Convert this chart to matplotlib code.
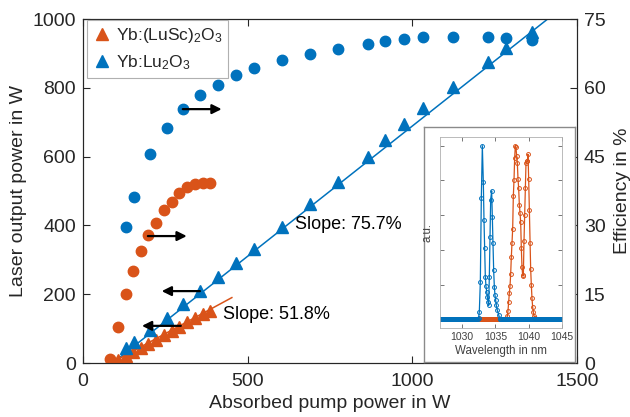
import numpy as np
import matplotlib
matplotlib.use('Agg')
import matplotlib.pyplot as plt
from matplotlib.lines import Line2D

plt.rcParams['font.family'] = ['Liberation Sans', 'DejaVu Sans']
plt.rcParams['mathtext.fontset'] = 'custom'
plt.rcParams['mathtext.rm'] = 'Liberation Sans'
plt.rcParams['mathtext.it'] = 'Liberation Sans:italic'

BLUE = '#0072BD'
ORANGE = '#D95319'
AXC = '#262626'

# ---------------- data ----------------
# Yb:Lu2O3
lu_pump = [130, 155, 203, 255, 303, 355, 409, 464, 518, 603, 688, 773,
           864, 918, 976, 1033, 1124, 1230, 1285, 1364]
lu_power = [44, 61, 96, 131, 172, 209, 250, 291, 331, 395, 462, 526,
            599, 648, 695, 741, 802, 875, 916, 962]
lu_eff = [29.6, 36.2, 45.6, 51.2, 55.4, 58.4, 60.6, 62.8, 64.3, 66.1, 67.4,
          68.5, 69.5, 70.2, 70.6, 71.1, 71.1, 71.1, 70.9, 70.4]
# Yb:(LuSc)2O3
lusc_pump = [82, 106, 130, 152, 176, 197, 221, 245, 270, 291, 315, 339, 364, 385]
lusc_power = [1, 9, 20, 31, 43, 55, 67, 80, 93, 106, 119, 131, 142, 152]
lusc_eff = [0.9, 7.8, 15.0, 20.1, 24.4, 27.9, 30.5, 33.4, 35.1, 37.1, 38.4,
            39.0, 39.2, 39.2]

# linear fits (slope, threshold in W, end of drawn line in W)
lu_slope, lu_thr, lu_end = 0.757, 90, 1500
lusc_slope, lusc_thr, lusc_end = 0.518, 85, 452

# arrows: (start_x, end_x, y in W on left axis)
arrows = [(303, 421, 738), (197, 315, 369), (355, 239, 209), (297, 179, 108)]

# inset spectra
blue_peak_wl = [1032.4, 1032.5, 1032.6, 1032.75, 1032.9, 1033.05, 1033.2, 1033.3,
                1033.4, 1033.5, 1033.6, 1033.7, 1033.8, 1033.9, 1034.0, 1034.1,
                1034.2, 1034.3, 1034.45, 1034.55, 1034.65, 1034.75, 1034.85,
                1034.95, 1035.05, 1035.15, 1035.3, 1035.5, 1035.7]
blue_peak_val = [0.0, 0.01, 0.045, 0.215, 0.70, 1.0, 0.79, 0.57, 0.41, 0.245,
                 0.19, 0.16, 0.13, 0.10, 0.08, 0.245, 0.476, 0.69, 0.74, 0.59,
                 0.437, 0.283, 0.187, 0.139, 0.11, 0.08, 0.052, 0.027, 0.0]
orange_peak_wl = [1036.7, 1036.8, 1036.9, 1037.0, 1037.1, 1037.2, 1037.3, 1037.4,
                  1037.5, 1037.6, 1037.7, 1037.8, 1037.9, 1038.0, 1038.1, 1038.2,
                  1038.3, 1038.4, 1038.5, 1038.6, 1038.7, 1038.8, 1038.9, 1039.0,
                  1039.1, 1039.2, 1039.3, 1039.4, 1039.5, 1039.6, 1039.7, 1039.8,
                  1039.9, 1040.0, 1040.1, 1040.2, 1040.3, 1040.4, 1040.5, 1040.6,
                  1040.7, 1040.8, 1040.9, 1041.0]
orange_peak_val = [0.0, 0.02, 0.05, 0.10, 0.15, 0.19, 0.26, 0.36, 0.44, 0.52,
                   0.71, 0.80, 0.93, 1.0, 0.99, 0.94, 0.90, 0.81, 0.755, 0.66,
                   0.615, 0.56, 0.41, 0.30, 0.255, 0.25, 0.45, 0.60, 0.755, 0.90,
                   0.91, 0.91, 0.95, 0.81, 0.63, 0.44, 0.29, 0.197, 0.12, 0.07,
                   0.04, 0.02, 0.01, 0.0]
baseline_range = (1026.7, 1045.0)
baseline_step = 0.15


def spectrum(peak_wl, peak_val):
    base = np.arange(baseline_range[0], baseline_range[1] + 1e-9, baseline_step)
    base = base[(base < peak_wl[0]) | (base > peak_wl[-1])]
    wl = np.concatenate([base, peak_wl])
    val = np.concatenate([np.zeros(len(base)), peak_val])
    order = np.argsort(wl)
    return wl[order], val[order]


# ---------------- figure ----------------
fig = plt.figure(figsize=(6.3, 4.17), dpi=100)
ax = fig.add_axes([83 / 630, 54 / 417, 494 / 630, 344 / 417])
ax2 = ax.twinx()

# fit lines
ax.plot([lu_thr, lu_end], [0, lu_slope * (lu_end - lu_thr)], color=BLUE, lw=1.1, zorder=2)
ax.plot([lusc_thr, lusc_end], [0, lusc_slope * (lusc_end - lusc_thr)], color=ORANGE, lw=1.1, zorder=2)
# output power
ax.plot(lusc_pump, lusc_power, ls='none', marker='^', ms=8.5, color=ORANGE, mec=ORANGE, zorder=3)
ax.plot(lu_pump, lu_power, ls='none', marker='^', ms=8.5, color=BLUE, mec=BLUE, zorder=3)
# efficiency
ax2.plot(lusc_pump, lusc_eff, ls='none', marker='o', ms=7.5, color=ORANGE, mec=ORANGE)
ax2.plot(lu_pump, lu_eff, ls='none', marker='o', ms=7.5, color=BLUE, mec=BLUE)

for x0, x1, y in arrows:
    ax2.annotate('', xy=(x1, y), xytext=(x0, y), xycoords=ax.transData,
                 textcoords=ax.transData,
                 arrowprops=dict(arrowstyle='-|>', color='k', lw=1.6,
                                 mutation_scale=14, shrinkA=0, shrinkB=0))

ax.text(645, 404, 'Slope: 75.7%', fontsize=13, color='k', ha='left', va='center')
ax.text(424, 142, 'Slope: 51.8%', fontsize=13, color='k', ha='left', va='center')

ax.set_xlim(0, 1500)
ax.set_ylim(0, 1000)
ax2.set_ylim(0, 75)
ax.set_xticks([0, 500, 1000, 1500])
ax.set_yticks([0, 200, 400, 600, 800, 1000])
ax2.set_yticks([0, 15, 30, 45, 60, 75])

ax.tick_params(axis='x', direction='in', length=5, top=True, labelsize=14,
               pad=7, colors=AXC, width=0.8)
ax.tick_params(axis='y', direction='in', length=5, right=False, labelsize=14,
               pad=5, colors=AXC, width=0.8)
ax2.tick_params(axis='y', direction='in', length=5, labelsize=14, pad=5,
                colors=AXC, width=0.8)
for a in (ax, ax2):
    for s in a.spines.values():
        s.set_color(AXC)
        s.set_linewidth(0.8)

ax.set_xlabel('Absorbed pump power in W', fontsize=14, color=AXC, labelpad=4)
ax.set_ylabel('Laser output power in W', fontsize=14, color=AXC, labelpad=4)
ax2.set_ylabel('Efficiency in %', fontsize=14, color=AXC, labelpad=6)

handles = [Line2D([], [], ls='none', marker='^', ms=8.5, color=ORANGE),
           Line2D([], [], ls='none', marker='^', ms=8.5, color=BLUE)]
leg = ax2.legend(handles, ['Yb:(LuSc)$_2$O$_3$', 'Yb:Lu$_2$O$_3$'],
                 loc='upper left', bbox_to_anchor=(0.008, 0.997),
                 fontsize=12.5, frameon=True, fancybox=False, framealpha=1,
                 edgecolor='#b0b0b0', handlelength=1.0, handletextpad=0.3,
                 borderpad=0.35, labelspacing=0.45, borderaxespad=0)
leg.get_frame().set_linewidth(0.8)
for t in leg.get_texts():
    t.set_color(AXC)

# ---------------- inset ----------------
box = fig.add_axes([424 / 630, 55 / 417, 151 / 630, 235 / 417], zorder=5)
box.set_xticks([])
box.set_yticks([])
box.set_facecolor('white')
for s in box.spines.values():
    s.set_color('#8a8a8a')
    s.set_linewidth(1.0)

ins = fig.add_axes([440 / 630, 89 / 417, 122 / 630, 191 / 417], zorder=6)
wl_o, val_o = spectrum(orange_peak_wl, orange_peak_val)
wl_b, val_b = spectrum(blue_peak_wl, blue_peak_val)
ins.plot(wl_o, val_o, color=ORANGE, lw=0.9, marker='o', ms=2.8, mfc='none', mew=0.7)
ins.plot(wl_b, val_b, color=BLUE, lw=0.9, marker='o', ms=2.8, mfc='none', mew=0.7)
ins.set_xlim(1026.7, 1045.0)
ins.set_ylim(-0.05, 1.05)
ins.set_xticks([1030, 1035, 1040, 1045])
ins.set_yticks([0, 0.2, 0.4, 0.6, 0.8, 1.0])
ins.set_yticklabels([])
ins.tick_params(direction='in', length=3, top=True, right=True, labelsize=7.5,
                colors='#404040', width=0.5, pad=3)
for s in ins.spines.values():
    s.set_color('#b0b0b0')
    s.set_linewidth(0.6)
ins.set_xlabel('Wavelength in nm', fontsize=8.3, color='#404040', labelpad=2)
ins.set_ylabel('a.u.', fontsize=8.3, color='#404040', labelpad=2)

fig.savefig('out.png', dpi=100)
